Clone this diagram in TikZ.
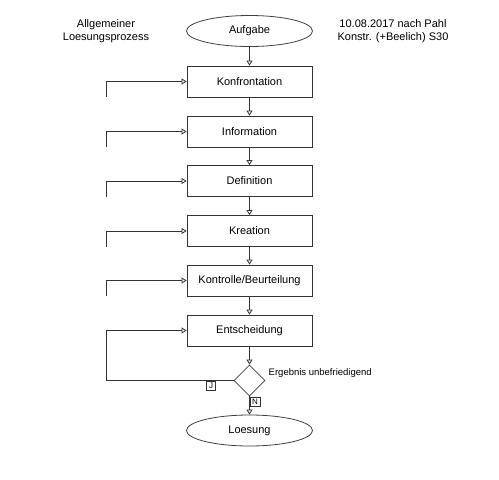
\documentclass[tikz,border=0pt]{standalone}
\usepackage{fontspec}
\setmainfont{Liberation Sans}
\usetikzlibrary{arrows.meta,shapes.geometric}
\begin{document}
\begin{tikzpicture}[x=1pt,y=-1pt,
  line width=0.8pt,
  stepbox/.style={draw=black!80, rectangle, minimum width=125pt, minimum height=31pt, inner sep=0pt, font=\fontsize{11}{13}\selectfont},
  term/.style={draw=black!75, ellipse, minimum width=126pt, minimum height=31pt, inner sep=0pt, font=\fontsize{11}{13}\selectfont},
  dec/.style={draw=black!75, diamond, minimum width=31pt, minimum height=31pt, inner sep=0pt},
  tag/.style={draw=black!80, line width=0.7pt, rectangle, inner sep=0pt, minimum width=9.5pt, minimum height=9pt, font=\fontsize{8}{9}\selectfont},
  note/.style={align=center, font=\fontsize{11}{13}\selectfont},
  arr/.style={draw=black!80, -{Triangle[open, length=5pt, width=6pt]}},
  ln/.style={draw=black!80}
]
\useasboundingbox (0,0) rectangle (499,480);

\node[note] (title) at (106,31) {Allgemeiner\\Loesungsprozess};
\node[note] (ref) at (393,31) {10.08.2017 nach Pahl\\Konstr. (+Beelich) S30};

\node[term] (auf) at (249.5,31) {Aufgabe};
\node[stepbox] (konf) at (249.5,81.5) {Konfrontation};
\node[stepbox] (info) at (249.5,131.5) {Information};
\node[stepbox] (defi) at (249.5,181) {Definition};
\node[stepbox] (krea) at (249.5,231) {Kreation};
\node[stepbox] (kont) at (249.5,280.5) {Kontrolle/Beurteilung};
\node[stepbox] (ent) at (249.5,330.5) {Entscheidung};
\node[dec] (dia) at (249.5,380.5) {};
\node[term] (loe) at (249.5,430.5) {Loesung};

\node[anchor=west, font=\fontsize{9.5}{11}\selectfont] (erg) at (265,373.5) {Ergebnis unbefriedigend};
\node[tag, anchor=north] (j) at (211,381) {J};
\node[tag, anchor=north west] (n) at (250,396.5) {N};

\draw[arr] (auf) -- (konf);
\draw[arr] (konf) -- (info);
\draw[arr] (info) -- (defi);
\draw[arr] (defi) -- (krea);
\draw[arr] (krea) -- (kont);
\draw[arr] (kont) -- (ent);
\draw[arr] (ent) -- (dia);
\draw[arr] (dia) -- (loe);

\coordinate (f1) at (106,97);
\coordinate (f2) at (106,147);
\coordinate (f3) at (106,196.5);
\coordinate (f4) at (106,246.5);
\coordinate (f5) at (106,296);
\coordinate (lp) at (106,380.5);
\draw[arr] (f1) |- (konf.west);
\draw[arr] (f2) |- (info.west);
\draw[arr] (f3) |- (defi.west);
\draw[arr] (f4) |- (krea.west);
\draw[arr] (f5) |- (kont.west);
\draw[arr] (dia.west) -- (lp) |- (ent.west);
\end{tikzpicture}
\end{document}
